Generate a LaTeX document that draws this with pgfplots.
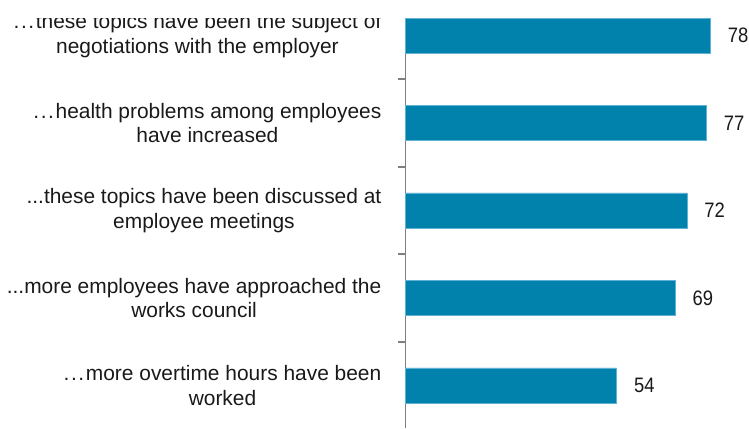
\documentclass[border=0pt]{standalone}
\usepackage{pgfplots}
\pgfplotsset{compat=1.18}
\usepackage{fontspec}
\setmainfont{Liberation Sans}
\newfontfamily\numfont[FakeStretch=0.88]{Liberation Sans}
\definecolor{barblue}{RGB}{0,130,172}
\definecolor{baredge}{RGB}{95,178,212}
\definecolor{axgray}{RGB}{128,128,128}
\newcommand{\tdots}{.\kern0pt.\kern0pt.}
\newcommand{\sdots}{.\kern1.6bp.\kern1.6bp.\kern1.6bp}
\begin{document}
\begin{tikzpicture}[x=1bp,y=1bp]
\path[use as bounding box] (0,0) rectangle (749,428);
\clip (-50,0) rectangle (800,409);
\begin{axis}[
    at={(405.5bp,0bp)}, anchor=south west,
    scale only axis,
    width=343.5bp, height=408bp,
    xmin=0, xmax=87.85,
    ymin=-0.486, ymax=4.177,
    xbar, bar width=0.4,
    clip=false,
    hide x axis,
    axis y line=left,
    axis line style={-, draw=axgray, line width=1.8bp},
    ytick={0,1,2,3,4},
    yticklabels={
        {\sdots more overtime hours have been\\worked},
        {\tdots more employees have approached the\\works council},
        {\tdots these topics have been discussed at\\employee meetings},
        {\sdots health problems among employees\\have increased},
        {\sdots these topics have been the subject of\\negotiations with the employer}},
    major tick length=0pt,
    minor ytick={0.5,1.5,2.5,3.5},
    minor tick length=8bp,
    tick align=outside,
    tick pos=left,
    minor tick style={draw=axgray, line width=1.6bp},
    yticklabel style={align=center, anchor=east, inner sep=0pt, xshift=-24bp,
        font=\fontsize{21}{25}\selectfont, text=black!90},
    /pgf/number format/assume math mode=true,
    nodes near coords,
    nodes near coords style={anchor=west, inner sep=0pt, xshift=17bp,
        font=\numfont\fontsize{21}{25}\selectfont, text=black!90},
]
\addplot[fill=barblue, draw=baredge, line width=0.8bp] coordinates {
    (54,0) (69,1) (72,2) (77,3) (78,4)
};
\end{axis}
\end{tikzpicture}
\end{document}
